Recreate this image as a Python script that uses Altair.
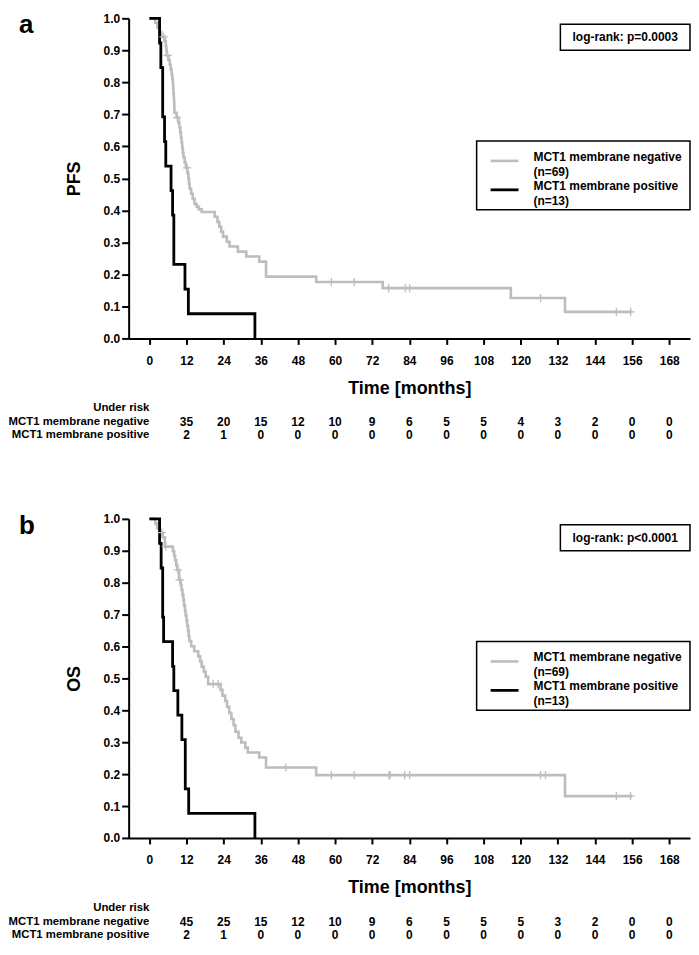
import altair as alt
import pandas as pd

FONT = "Liberation Sans"
GRAY = "#bdbdbd"
BLACK = "#000000"

# ---------------- data ----------------
axis_months = list(range(0, 169, 12))
risk_months = list(range(12, 169, 12))
y_ticks = [0.0, 0.1, 0.2, 0.3, 0.4, 0.5, 0.6, 0.7, 0.8, 0.9, 1.0]

group_names = ["MCT1 membrane negative", "MCT1 membrane positive"]
group_n = ["(n=69)", "(n=13)"]

# Panel a: PFS
pfs_neg_t = [0, 1.9, 2.6, 3.2, 3.8, 5.0, 5.3, 5.5, 5.6, 6.2, 6.6, 6.9, 7.2, 7.4, 7.6, 7.7, 7.8, 7.9,
             8.0, 8.05, 8.1, 8.8, 9.4, 9.7, 10.0, 10.2, 10.4, 10.6, 10.8, 11.0, 11.4, 11.8, 12.3, 12.6,
             12.8, 13.0, 13.5, 14.0, 14.6, 15.3, 16.0, 16.9, 21.1, 22.0, 22.6, 23.2, 23.8, 25.0, 25.9,
             28.6, 31.3, 35.5, 37.7, 53.9, 75.4, 116.8, 134.3, 156.0]
pfs_neg_s = [1.0, 0.986, 0.971, 0.957, 0.942, 0.928, 0.913, 0.899, 0.884, 0.870, 0.855, 0.840, 0.825,
             0.810, 0.795, 0.780, 0.765, 0.750, 0.735, 0.720, 0.705, 0.690, 0.674, 0.659, 0.643, 0.627,
             0.612, 0.596, 0.581, 0.565, 0.549, 0.533, 0.517, 0.500, 0.484, 0.468, 0.452, 0.436, 0.420,
             0.411, 0.403, 0.395, 0.380, 0.364, 0.349, 0.333, 0.318, 0.302, 0.287, 0.271, 0.256, 0.240,
             0.193, 0.176, 0.157, 0.126, 0.083, 0.083]
pfs_cens_t = [4.6, 5.9, 9.0, 12.2, 58.8, 66.2, 77.3, 82.7, 84.1, 126.4, 150.9, 155.5]
pfs_cens_s = [0.942, 0.884, 0.690, 0.533, 0.176, 0.176, 0.157, 0.157, 0.157, 0.126, 0.083, 0.083]
pfs_pos_t = [0, 3.3, 3.7, 4.3, 4.9, 5.3, 7.0, 7.5, 7.9, 11.5, 12.6, 34.1]
pfs_pos_s = [1.0, 0.923, 0.846, 0.692, 0.615, 0.538, 0.462, 0.385, 0.231, 0.154, 0.077, 0.0]
pfs_risk_neg = [35, 20, 15, 12, 10, 9, 6, 5, 5, 4, 3, 2, 0, 0]
pfs_risk_pos = [2, 1, 0, 0, 0, 0, 0, 0, 0, 0, 0, 0, 0, 0]

# Panel b: OS
os_neg_t = [0, 1.9, 2.5, 3.2, 4.3, 5.0, 7.6, 8.0, 8.3, 8.7, 9.0, 9.6, 10.1, 10.4, 10.7, 11.0, 11.2,
            11.5, 11.7, 12.0, 12.2, 12.5, 12.7, 12.9, 13.5, 14.5, 15.8, 16.4, 16.9, 17.6, 18.2, 19.0,
            23.0, 23.6, 24.5, 25.1, 25.8, 26.5, 27.2, 27.8, 28.8, 29.7, 31.0, 31.8, 35.5, 37.7, 53.9,
            134.3, 156.0]
os_neg_s = [1.0, 0.986, 0.971, 0.957, 0.942, 0.913, 0.899, 0.884, 0.870, 0.855, 0.840, 0.809, 0.793,
            0.777, 0.761, 0.745, 0.729, 0.713, 0.697, 0.681, 0.665, 0.649, 0.633, 0.617, 0.601, 0.585,
            0.569, 0.553, 0.537, 0.521, 0.505, 0.482, 0.464, 0.446, 0.429, 0.411, 0.392, 0.373, 0.353,
            0.333, 0.314, 0.299, 0.283, 0.268, 0.252, 0.221, 0.197, 0.131, 0.131]
os_cens_t = [4.0, 5.3, 9.2, 9.8, 20.6, 22.2, 44.1, 58.8, 66.2, 77.4, 77.8, 82.5, 84.1, 126.4, 128.0,
             150.9, 155.5]
os_cens_s = [0.957, 0.913, 0.840, 0.809, 0.482, 0.482, 0.221, 0.197, 0.197, 0.197, 0.197, 0.197, 0.197,
             0.197, 0.197, 0.131, 0.131]
os_pos_t = [0, 3.3, 3.8, 4.3, 4.6, 7.5, 7.9, 9.2, 10.5, 11.6, 12.7, 34.1]
os_pos_s = [1.0, 0.923, 0.846, 0.692, 0.615, 0.538, 0.462, 0.385, 0.308, 0.154, 0.077, 0.0]
os_risk_neg = [45, 25, 15, 12, 10, 9, 6, 5, 5, 5, 3, 2, 0, 0]
os_risk_pos = [2, 1, 0, 0, 0, 0, 0, 0, 0, 0, 0, 0, 0, 0]

# ---------------- layout ----------------
W = 563
xscale = alt.Scale(domain=[-6.7, 174.7], nice=False, zero=False)
yscale = alt.Scale(domain=[0, 1], nice=False)


def one_row():
    return pd.DataFrame({"a": [0]})


def text_layer(txt, x, y, size=12, align="left", baseline="middle"):
    return alt.Chart(pd.DataFrame({"t": [txt]})).mark_text(
        font=FONT, fontWeight="bold", fontSize=size, align=align, baseline=baseline, color="black"
    ).encode(x=alt.value(x), y=alt.value(y), text="t:N")


def panel(letter, ylabel, pval, neg_t, neg_s, cens_t, cens_s, pos_t, pos_s, risk_neg, risk_pos, H):
    xaxis = alt.Axis(values=axis_months, title="Time [months]", tickSize=6, labelPadding=11,
                     titlePadding=13, labelFlush=False, grid=False)
    yaxis = alt.Axis(values=y_ticks, format=".1f", title=ylabel, tickSize=7, labelPadding=2,
                     titlePadding=20, grid=False)
    X = alt.X("time:Q", scale=xscale, axis=xaxis)
    Y = alt.Y("surv:Q", scale=yscale, axis=yaxis)

    curves = pd.DataFrame({
        "time": neg_t + pos_t,
        "surv": neg_s + pos_s,
        "group": [group_names[0]] * len(neg_t) + [group_names[1]] * len(pos_t),
    })
    lines = alt.Chart(curves).mark_line(interpolate="step-after").encode(
        x=X, y=Y,
        color=alt.Color("group:N", scale=alt.Scale(domain=group_names, range=[GRAY, BLACK]), legend=None),
        strokeWidth=alt.StrokeWidth("group:N", scale=alt.Scale(domain=group_names, range=[2.6, 2.8]),
                                    legend=None),
    )
    cens = alt.Chart(pd.DataFrame({"time": cens_t, "surv": cens_s})).mark_point(
        shape="M-1,0L1,0M0,-1L0,1", filled=False, stroke=GRAY, strokeWidth=1.3, size=70, opacity=1
    ).encode(x=X, y=Y)

    risk_x = alt.X("month:Q", scale=xscale, axis=xaxis)
    risk1 = alt.Chart(pd.DataFrame({"month": risk_months, "n": risk_neg})).mark_text(
        font=FONT, fontWeight="bold", fontSize=12, baseline="middle", color="black"
    ).encode(x=risk_x, y=alt.value(H + 84), text="n:Q")
    risk2 = alt.Chart(pd.DataFrame({"month": risk_months, "n": risk_pos})).mark_text(
        font=FONT, fontWeight="bold", fontSize=12, baseline="middle", color="black"
    ).encode(x=risk_x, y=alt.value(H + 97), text="n:Q")

    row_labels = []
    for lab, yy in [("Under risk", H + 70), (group_names[0], H + 84), (group_names[1], H + 97)]:
        row_labels.append(
            alt.Chart(pd.DataFrame({"month": [0], "t": [lab]})).mark_text(
                font=FONT, fontWeight="bold", fontSize=11.4, align="right", baseline="middle",
                color="black"
            ).encode(x=risk_x, y=alt.value(yy), text="t:N")
        )

    # p-value box
    pbox = alt.Chart(one_row()).mark_rect(fill="white", stroke="black", strokeWidth=1.5).encode(
        x=alt.value(433), x2=alt.value(W), y=alt.value(6), y2=alt.value(32))
    ptext = text_layer(pval, (433 + W) / 2, 19, align="center")

    # legend box
    lbox = alt.Chart(one_row()).mark_rect(fill="white", stroke="black", strokeWidth=1.5).encode(
        x=alt.value(349), x2=alt.value(W), y=alt.value(123), y2=alt.value(192))
    lsym1 = alt.Chart(one_row()).mark_rule(color=GRAY, strokeWidth=2.6).encode(
        x=alt.value(363), x2=alt.value(391), y=alt.value(143))
    lsym2 = alt.Chart(one_row()).mark_rule(color=BLACK, strokeWidth=2.8).encode(
        x=alt.value(363), x2=alt.value(391), y=alt.value(172))
    ltexts = [
        text_layer(group_names[0], 406, 139),
        text_layer(group_n[0], 406, 154),
        text_layer(group_names[1], 406, 168),
        text_layer(group_n[1], 406, 183),
    ]

    letter_mark = text_layer(letter, -110, 15, size=26, baseline="alphabetic")

    return alt.layer(
        lines, cens, risk1, risk2, *row_labels, pbox, ptext, lbox, lsym1, lsym2, *ltexts, letter_mark
    ).properties(width=W, height=H)


pa = panel("a", "PFS", "log-rank: p=0.0003", pfs_neg_t, pfs_neg_s, pfs_cens_t, pfs_cens_s,
           pfs_pos_t, pfs_pos_s, pfs_risk_neg, pfs_risk_pos, 321)
pb = panel("b", "OS", "log-rank: p<0.0001", os_neg_t, os_neg_s, os_cens_t, os_cens_s,
           os_pos_t, os_pos_s, os_risk_neg, os_risk_pos, 320)

chart = alt.vconcat(pa, pb, spacing=72).properties(
    padding={"left": 0, "top": 3, "right": 0, "bottom": 0},
    autosize=alt.AutoSizeParams(type="pad"),
).configure_view(stroke=None).configure_axis(
    domainColor="black", domainWidth=2, tickColor="black", tickWidth=2,
    labelFont=FONT, labelFontWeight="bold", labelFontSize=12, labelColor="black",
    titleFont=FONT, titleFontWeight="bold", titleFontSize=18, titleColor="black",
)

chart.save("out.html", embed_options={"renderer": "svg", "actions": False})
